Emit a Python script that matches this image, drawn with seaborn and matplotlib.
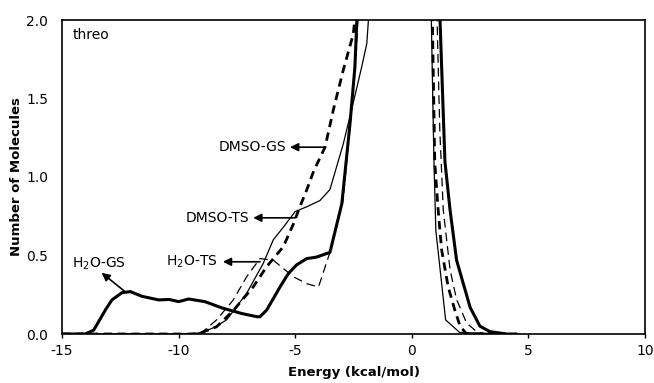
import matplotlib
matplotlib.use("Agg")
import matplotlib.pyplot as plt
import seaborn as sns
import pandas as pd
import numpy as np

# ---- data ----
h2o_gs_x = [-15, -14.0, -13.64, -13.14, -12.86, -12.43, -12.07, -11.57, -10.85, -10.4, -10.0, -9.57,
            -8.87, -8.14, -7.28, -6.64, -6.51, -6.22, -5.65, -5.29, -4.94, -4.51, -4.08, -3.51,
            -3.0, -2.65, -2.44, -2.3, 1.0, 1.21, 1.42, 1.64, 1.92, 2.5, 2.92, 3.35, 4.07, 4.5]
h2o_gs_y = [0, 0, 0.025, 0.153, 0.217, 0.263, 0.27, 0.24, 0.217, 0.22, 0.206, 0.223,
            0.206, 0.166, 0.13, 0.11, 0.11, 0.153, 0.30, 0.386, 0.44, 0.48, 0.49, 0.52,
            0.83, 1.34, 1.70, 2.2, 3.0, 2.0, 1.10, 0.79, 0.47, 0.17, 0.05, 0.015, 0.0, 0.0]

h2o_ts_x = [-15, -9.5, -9.0, -8.37, -7.66, -7.08, -6.51, -5.94, -5.08, -4.5, -4.0, -3.51,
            -2.95, -2.6, -2.38, -2.25, 1.05, 1.2, 1.35, 1.64, 1.92, 2.35, 2.78, 3.2, 4.0]
h2o_ts_y = [0, 0, 0.01, 0.09, 0.216, 0.365, 0.48, 0.47, 0.365, 0.32, 0.30, 0.52,
            0.85, 1.40, 1.80, 2.2, 2.2, 1.3, 0.79, 0.41, 0.22, 0.07, 0.015, 0.0, 0.0]

dmso_gs_x = [-15, -9.5, -9.08, -8.37, -7.65, -6.8, -6.22, -5.51, -5.08, -4.8, -4.5, -4.2,
             -3.72, -3.36, -2.94, -2.51, -2.3, 0.85, 0.985, 1.13, 1.28, 1.56, 1.85, 2.07, 2.35, 4.0]
dmso_gs_y = [0, 0, 0.005, 0.046, 0.15, 0.30, 0.43, 0.556, 0.70, 0.81, 0.92, 1.04,
             1.19, 1.43, 1.68, 1.91, 2.2, 2.3, 1.09, 0.79, 0.535, 0.30, 0.15, 0.05, 0.0, 0.0]

dmso_ts_x = [-15, -9.5, -9.0, -8.5, -7.94, -7.08, -6.37, -5.94, -5.51, -5.0, -4.51, -3.94,
             -3.51, -2.94, -2.58, -2.15, -1.93, -1.86, -1.75, 0.8, 0.95, 1.03, 1.45, 2.05, 3.0, 4.5]
dmso_ts_y = [0, 0, 0.01, 0.04, 0.09, 0.26, 0.45, 0.60, 0.68, 0.78, 0.81, 0.85,
             0.92, 1.21, 1.43, 1.70, 1.85, 2.0, 2.3, 2.3, 1.10, 0.66, 0.09, 0.01, 0.005, 0.0]

x_ticks = [-15, -10, -5, 0, 5, 10]
y_ticks = [0.0, 0.5, 1.0, 1.5, 2.0]

sns.set_style("white")
plt.rcParams['font.family'] = ['DejaVu Sans']
plt.rcParams['mathtext.fontset'] = 'dejavusans'
plt.rcParams['text.color'] = 'black'
plt.rcParams['axes.labelcolor'] = 'black'
plt.rcParams['xtick.color'] = 'black'
plt.rcParams['ytick.color'] = 'black'

fig = plt.figure(figsize=(6.54, 3.83), dpi=100)
ax = fig.add_axes([62/654, 49/383, 583/654, 314/383])

series = [
    (h2o_gs_x, h2o_gs_y, dict(color='black', lw=2.2, ls='-')),
    (h2o_ts_x, h2o_ts_y, dict(color='black', lw=0.9, dashes=(7, 4))),
    (dmso_gs_x, dmso_gs_y, dict(color='black', lw=2.0, dashes=(3, 2))),
    (dmso_ts_x, dmso_ts_y, dict(color='black', lw=0.9, ls='-')),
]
for xs, ys, kw in series:
    df = pd.DataFrame({'x': xs, 'y': ys})
    sns.lineplot(data=df, x='x', y='y', ax=ax, estimator=None, sort=False, **kw)

ax.set_xlim(-15, 10)
ax.set_ylim(0, 2.0)
ax.set_xticks(x_ticks)
ax.set_xticklabels([str(t) for t in x_ticks])
ax.set_yticks(y_ticks)
ax.set_yticklabels([f"{t:.1f}" for t in y_ticks])
ax.tick_params(axis='x', direction='out', length=3, width=1, pad=4, labelsize=10, bottom=True,
               colors='black')
ax.tick_params(axis='y', length=0, pad=10, labelsize=10, left=True, colors='black')
for s in ax.spines.values():
    s.set_visible(True)
    s.set_color('black')
    s.set_linewidth(1.2)

ax.set_xlabel("Energy (kcal/mol)", fontsize=9.5, fontweight='bold', labelpad=6, color='black')
ax.set_ylabel("Number of Molecules", fontsize=9.5, fontweight='bold', labelpad=2, color='black')

ax.text(0.019, 0.952, "threo", transform=ax.transAxes, fontsize=10, ha='left', va='center',
        color='black')

arrow_kw = dict(arrowstyle='-|>', color='black', lw=1.2, mutation_scale=12, shrinkA=0, shrinkB=0)
ax.annotate("", xy=(-5.22, 1.19), xytext=(-3.72, 1.19), arrowprops=arrow_kw)
ax.text(-5.39, 1.19, "DMSO-GS", fontsize=10, ha='right', va='center', color='black')
ax.annotate("", xy=(-6.8, 0.74), xytext=(-5.0, 0.74), arrowprops=arrow_kw)
ax.text(-6.98, 0.74, "DMSO-TS", fontsize=10, ha='right', va='center', color='black')
ax.annotate("", xy=(-8.1, 0.46), xytext=(-6.51, 0.46), arrowprops=arrow_kw)
ax.text(-8.31, 0.46, "H$_2$O-TS", fontsize=10, ha='right', va='center', color='black')
ax.annotate("", xy=(-13.3, 0.39), xytext=(-12.3, 0.27), arrowprops=arrow_kw)
ax.text(-14.57, 0.45, "H$_2$O-GS", fontsize=10, ha='left', va='center', color='black')

fig.savefig("out.png", dpi=100)
